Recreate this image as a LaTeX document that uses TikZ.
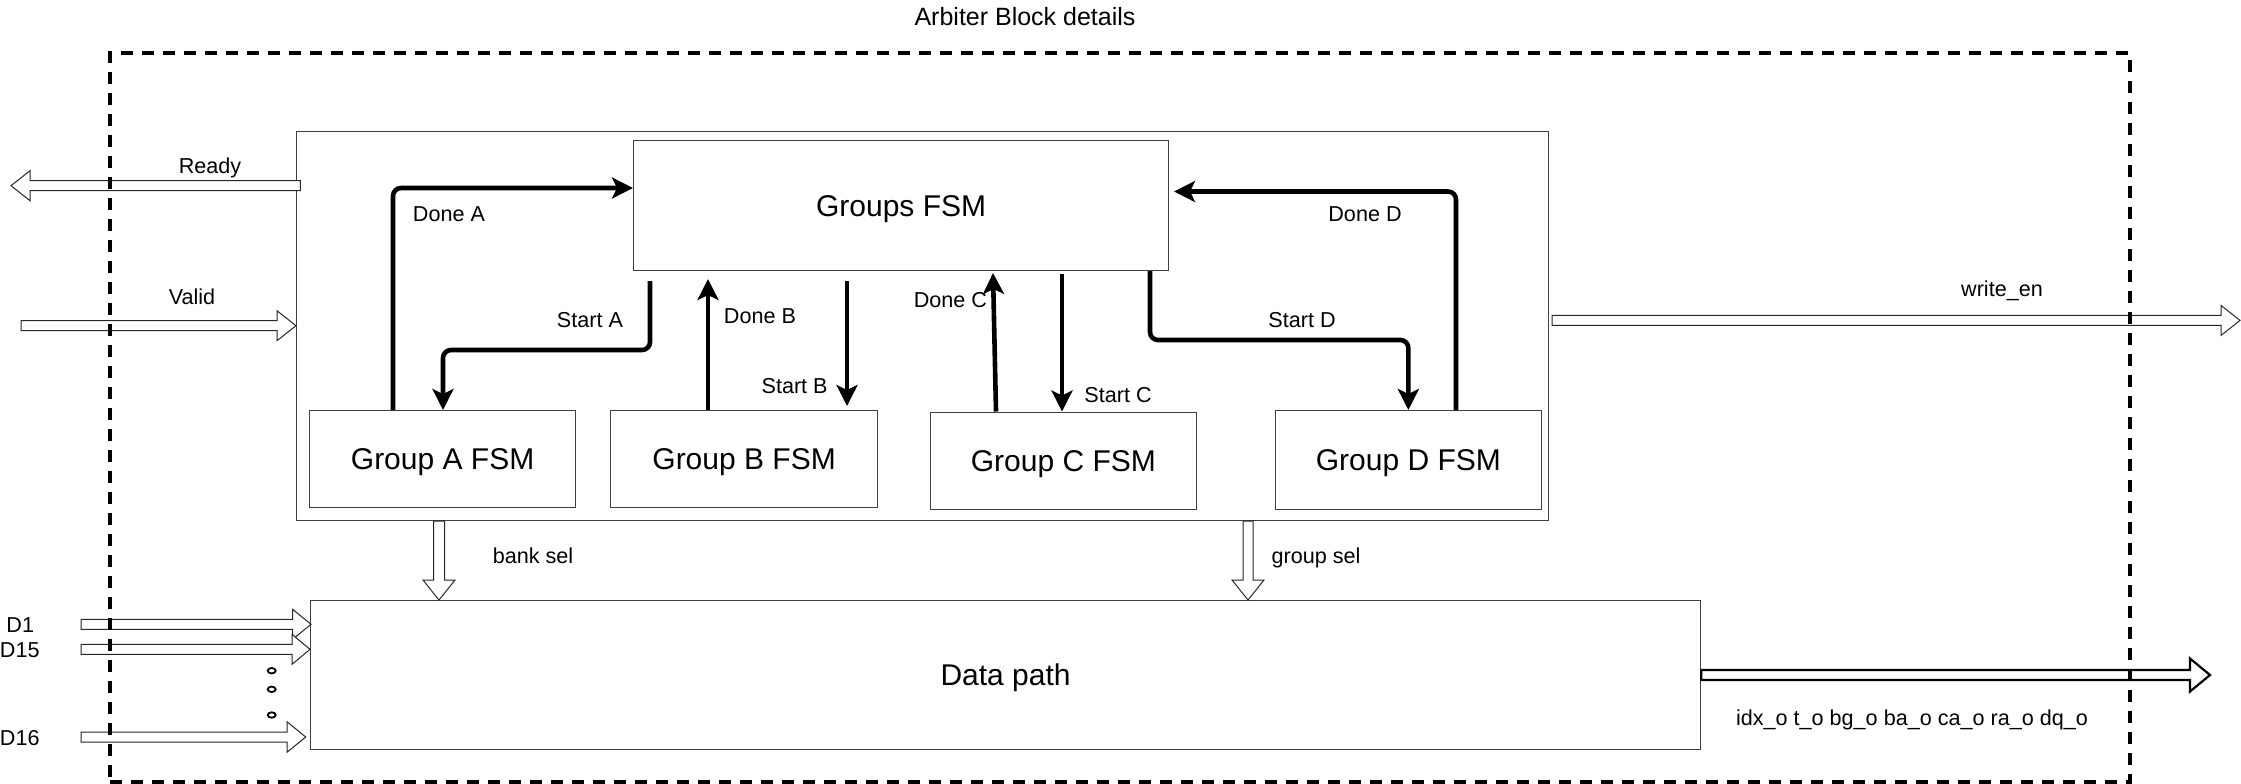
\documentclass[tikz,border=0pt]{standalone}
\usepackage{fontspec}
\setmainfont{Liberation Sans}
\usetikzlibrary{arrows.meta,calc}

% horizontal hollow arrow: tail, tip, body half-width, head half-width, head length (signed), style
\newcommand{\harrow}[6]{\draw[#6] let \p1=(#1), \p2=(#2) in
  ({\x1},{\y1+#3}) -- ({\x2-(#5)},{\y1+#3}) -- ({\x2-(#5)},{\y1+#4}) -- ({\x2},{\y1}) --
  ({\x2-(#5)},{\y1-#4}) -- ({\x2-(#5)},{\y1-#3}) -- ({\x1},{\y1-#3}) -- cycle;}
% vertical (downward) hollow arrow
\newcommand{\varrow}[6]{\draw[#6] let \p1=(#1), \p2=(#2) in
  ({\x1+#3},{\y1}) -- ({\x1+#3},{\y2+#5}) -- ({\x1+#4},{\y2+#5}) -- ({\x1},{\y2}) --
  ({\x1-#4},{\y2+#5}) -- ({\x1-#3},{\y2+#5}) -- ({\x1-#3},{\y1}) -- cycle;}

\begin{document}
\begin{tikzpicture}[x=0.5pt,y=-0.5pt,
  box/.style={draw=black!75, line width=0.6pt, fill=white, inner sep=0pt,
    anchor=north west, font=\fontsize{15}{18}\selectfont,
    text height=10.7pt, text depth=0pt},
  lbl/.style={font=\fontsize{10.8}{13}\selectfont, inner sep=0pt,
    text height=7.7pt, text depth=0pt},
  sig/.style={line width=2.3pt, rounded corners=4pt,
    -{Stealth[length=10.5pt,width=10.5pt,inset=2.5pt]}},
  hollow/.style={draw=black!85, line width=0.5pt, fill=white},
  hollowbold/.style={draw=black, line width=1.1pt, fill=white},
  frame/.style={draw=black, line width=2pt, dash pattern=on 6pt off 4.5pt,
    inner sep=0pt, anchor=north west},
  dotmark/.style={draw=black, line width=0.9pt},
]
\useasboundingbox (0,0) rectangle (2241,783);

% blocks
\node[box, minimum width=626pt, minimum height=194.5pt] (outer) at (296,131) {};
\node[box, minimum width=267.5pt, minimum height=65pt] (groups) at (633,140) {Groups FSM};
\node[box, minimum width=133pt, minimum height=48.5pt] (gA) at (309,410) {Group A FSM};
\node[box, minimum width=133.5pt, minimum height=48.5pt] (gB) at (610,410) {Group B FSM};
\node[box, minimum width=133.25pt, minimum height=48.75pt] (gC) at (929.5,411.5) {Group C FSM};
\node[box, minimum width=133.25pt, minimum height=49.5pt] (gD) at (1274.5,410) {Group D FSM};
\node[box, minimum width=695pt, minimum height=74.5pt] (data) at (310,600) {Data path};

% free ends of connectors
\coordinate (sAs) at (650,281);
\coordinate (dBe) at (708,279);
\coordinate (sBs) at (847,281);
\coordinate (sBe) at (847,406);
\coordinate (dCe) at (993,273);
\coordinate (sCs) at (1062,274);
\coordinate (dDe) at (1174,191.5);

% control signals
\draw[sig] (gA.north -| 393,0) |- (groups.west |- 0,188);
\draw[sig] (sAs) -- (sAs |- 0,350) -| (gA.north -| 443,0);
\draw[sig] (gB.north -| 708,0) -- (dBe);
\draw[sig] (sBs) -- (sBe);
\draw[sig] (gC.north -| 996,0) -- (dCe);
\draw[sig] (sCs) -- (gC.north -| 1062,0);
\draw[sig] (groups.south -| 1150,0) |- (gD.north |- 0,340) -- (gD.north);
\draw[sig] (gD.north -| 1456,0) |- (dDe);

% hollow arrows
\coordinate (rdyT) at (300.4,185.7);
\coordinate (rdyH) at (11,185.7);
\harrow{rdyT}{rdyH}{2.5pt}{7.5pt}{-9.5pt}{hollow}
\coordinate (vT) at (21,325.7);
\coordinate (vH) at (outer.west |- vT);
\harrow{vT}{vH}{2.5pt}{7.5pt}{9.5pt}{hollow}
\coordinate (weT) at (1552,320.4);
\coordinate (weH) at (2240,320.4);
\harrow{weT}{weH}{2.5pt}{7.5pt}{9.5pt}{hollow}
\coordinate (doT) at (data.east |- 0,675);
\coordinate (doH) at (2210,675);
\harrow{doT}{doH}{2.5pt}{8.25pt}{10pt}{hollowbold}
\coordinate (bsT) at (outer.south -| 439,0);
\coordinate (bsH) at (data.north -| 439,0);
\varrow{bsT}{bsH}{2.75pt}{8pt}{10pt}{hollow}
\coordinate (gsT) at (outer.south -| 1248,0);
\coordinate (gsH) at (data.north -| 1248,0);
\varrow{gsT}{gsH}{2.5pt}{8pt}{10pt}{hollow}
\coordinate (d1T) at (81,624.3);
\coordinate (d1H) at (311,624.3);
\harrow{d1T}{d1H}{2.5pt}{7.5pt}{9.2pt}{hollow}
\coordinate (d15T) at (81,649.3);
\coordinate (d15H) at (310,649.3);
\harrow{d15T}{d15H}{2.5pt}{7.5pt}{9pt}{hollow}
\coordinate (d16T) at (81,737);
\coordinate (d16H) at (305.7,737);
\harrow{d16T}{d16H}{2.5pt}{7.6pt}{9.3pt}{hollow}

% dots
\draw[dotmark] (271.7,670.7) ellipse [x radius=2pt, y radius=1.35pt];
\draw[dotmark] (271.7,689.3) ellipse [x radius=2pt, y radius=1.35pt];
\draw[dotmark] (271.7,715) ellipse [x radius=2pt, y radius=1.35pt];

% labels
\node[font=\fontsize{12.5}{15}\selectfont, inner sep=0pt] (title) at (1025,17) {Arbiter Block details};
\node[lbl] (lReady) at (210,166) {Ready};
\node[lbl] (lValid) at (192,297) {Valid};
\node[lbl] (lWe) at (2002,289) {write\_en};
\node[lbl] (lDA) at (449,214) {Done A};
\node[lbl] (lSA) at (590,320) {Start A};
\node[lbl] (lDB) at (760,316) {Done B};
\node[lbl] (lSB) at (794.6,386) {Start B};
\node[lbl] (lDC) at (950.4,300) {Done C};
\node[lbl] (lSC) at (1118,395) {Start C};
\node[lbl] (lSD) at (1302,320) {Start D};
\node[lbl] (lDD) at (1365,214) {Done D};
\node[lbl] (lBank) at (533,556) {bank sel};
\node[lbl] (lGroup) at (1316,556) {group sel};
\node[lbl] (lOut) at (1912,717.5) {idx\_o t\_o bg\_o ba\_o ca\_o ra\_o dq\_o};
\node[lbl] (lD1) at (20.3,625) {D1};
\node[lbl] (lD15) at (19.8,650) {D15};
\node[lbl] (lD16) at (19.8,738) {D16};

% arbiter frame
\node[frame, minimum width=1010pt, minimum height=364.5pt] (arbiter) at (108,51) {};
\end{tikzpicture}
\end{document}
